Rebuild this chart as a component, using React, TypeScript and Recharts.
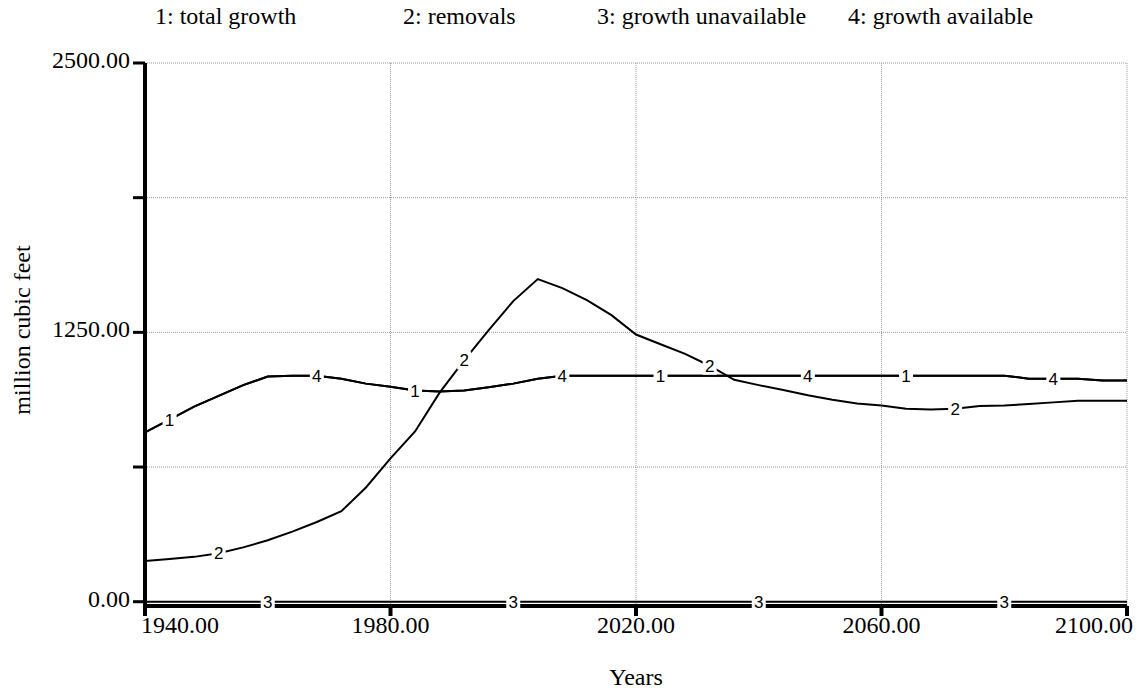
import { LineChart, Line, XAxis, YAxis, CartesianGrid } from 'recharts';

const years = [
	1940, 1944, 1948, 1952, 1956, 1960, 1964, 1968, 1972, 1976,
	1980, 1984, 1988, 1992, 1996, 2000, 2004, 2008, 2012, 2016,
	2020, 2024, 2028, 2032, 2036, 2040, 2044, 2048, 2052, 2056,
	2060, 2064, 2068, 2072, 2076, 2080, 2084, 2088, 2092, 2096,
	2100,
];

const totalGrowth = [
	786, 845, 905, 955, 1005, 1045, 1049, 1049, 1035, 1012,
	998, 980, 975, 980, 995, 1012, 1035, 1049, 1049, 1049,
	1049, 1049, 1049, 1049, 1049, 1049, 1049, 1049, 1049, 1049,
	1049, 1049, 1049, 1049, 1049, 1049, 1035, 1035, 1035, 1026,
	1026,
];

const removals = [
	189, 198, 208, 225, 252, 285, 325, 370, 420, 530,
	665, 790, 970, 1120, 1260, 1395, 1497, 1455, 1400, 1330,
	1240, 1195, 1150, 1095, 1030, 1005, 982, 958, 937, 920,
	910, 895, 892, 895, 908, 910, 918, 925, 933, 933,
	933,
];

const growthUnavailable = [
	0, 0, 0, 0, 0, 0, 0, 0, 0, 0,
	0, 0, 0, 0, 0, 0, 0, 0, 0, 0,
	0, 0, 0, 0, 0, 0, 0, 0, 0, 0,
	0, 0, 0, 0, 0, 0, 0, 0, 0, 0,
	0,
];

const growthAvailable = [
	786, 845, 905, 955, 1005, 1045, 1049, 1049, 1035, 1012,
	998, 980, 975, 980, 995, 1012, 1035, 1049, 1049, 1049,
	1049, 1049, 1049, 1049, 1049, 1049, 1049, 1049, 1049, 1049,
	1049, 1049, 1049, 1049, 1049, 1049, 1035, 1035, 1035, 1026,
	1026,
];

const xTicks = [1940, 1980, 2020, 2060, 2100];
const yTicks = [0, 625, 1250, 1875, 2500];
const yLabelled = [0, 1250, 2500];

const series = [
	{ key: 'total', num: '1', name: 'total growth', marks: [1944, 1984, 2024, 2064] },
	{ key: 'removals', num: '2', name: 'removals', marks: [1952, 1992, 2032, 2072] },
	{ key: 'unavailable', num: '3', name: 'growth unavailable', marks: [1960, 2000, 2040, 2080] },
	{ key: 'available', num: '4', name: 'growth available', marks: [1968, 2008, 2048, 2088] },
];

const data = years.map((year, i) => ({
	year,
	total: totalGrowth[i],
	removals: removals[i],
	unavailable: growthUnavailable[i],
	available: growthAvailable[i],
}));

const serif = 'Liberation Serif, Tinos, Times New Roman, Times, Nimbus Roman, DejaVu Serif, serif';
const sans = 'Liberation Sans, Arimo, Arial, sans-serif';

// white-backed series number sitting on the curve, Stella style
const makeMarker = (num: string, marks: number[]) => (props: any) => {
	const { cx, cy, payload, index } = props;
	if (!marks.includes(payload.year)) return <g key={index} />;
	return (
		<g key={index}>
			<rect x={cx - 7} y={cy - 9} width={14} height={18} fill="#fff" />
			<text x={cx} y={cy} dy={6} textAnchor="middle" fontFamily={sans} fontSize={17} fill="#000">
				{num}
			</text>
		</g>
	);
};

function XTick({ x, y, payload }: any) {
	const first = payload.value === xTicks[0];
	const last = payload.value === xTicks[xTicks.length - 1];
	return (
		<text
			x={first ? x - 4 : last ? x + 9 : x}
			y={y}
			dy={17}
			textAnchor={first ? 'start' : last ? 'end' : 'middle'}
			style={{ fontFamily: serif }}
			fontSize={24}
			fill="#000"
		>
			{payload.value.toFixed(2)}
		</text>
	);
}

function YTick({ x, y, payload }: any) {
	if (!yLabelled.includes(payload.value)) return <g />;
	return (
		<text x={x} y={y} dy={5} textAnchor="end" style={{ fontFamily: serif }} fontSize={24} fill="#000">
			{payload.value.toFixed(2)}
		</text>
	);
}

const legendLeft = [155, 403, 597, 848];

export default function App() {
	return (
		<div style={{ position: 'absolute', left: 0, top: 0, width: 1140, height: 690, background: '#fff' }}>
			{/* Legend */}
			{series.map((s, i) => (
				<div
					key={s.key}
					style={{
						position: 'absolute',
						left: legendLeft[i],
						top: 4,
						fontFamily: serif,
						fontSize: 24,
						lineHeight: '24px',
						whiteSpace: 'nowrap',
					}}
				>
					{`${s.num}: ${s.name}`}
				</div>
			))}

			<LineChart width={1140} height={690} data={data} margin={{ top: 63, right: 13, bottom: 24, left: 0 }}>
				<CartesianGrid stroke="#999" strokeDasharray="1 1" />
				<XAxis
					dataKey="year"
					type="number"
					domain={[1940, 2100]}
					ticks={xTicks}
					height={60}
					tickSize={10}
					tickMargin={0}
					axisLine={{ stroke: '#000', strokeWidth: 4 }}
					tickLine={{ stroke: '#000', strokeWidth: 4 }}
					tick={<XTick />}
				/>
				<YAxis
					type="number"
					domain={[-20, 2500]}
					ticks={yTicks}
					width={145}
					tickSize={12}
					tickMargin={3}
					axisLine={{ stroke: '#000', strokeWidth: 4 }}
					tickLine={{ stroke: '#000', strokeWidth: 3 }}
					tick={<YTick />}
				/>
				{series.map((s) => (
					<Line
						key={s.key}
						dataKey={s.key}
						type="linear"
						stroke="#000"
						strokeWidth={2}
						dot={false}
						isAnimationActive={false}
					/>
				))}
				{/* number markers drawn after every curve */}
				{series.map((s) => (
					<Line
						key={`${s.key}-mark`}
						dataKey={s.key}
						stroke="none"
						dot={makeMarker(s.num, s.marks)}
						activeDot={false}
						legendType="none"
						isAnimationActive={false}
					/>
				))}
			</LineChart>

			<div
				style={{
					position: 'absolute',
					left: 22,
					top: 330,
					transform: 'translate(-50%, -50%) rotate(-90deg)',
					fontFamily: serif,
					fontSize: 24,
					whiteSpace: 'nowrap',
				}}
			>
				million cubic feet
			</div>
			<div
				style={{
					position: 'absolute',
					left: 636,
					top: 677,
					transform: 'translate(-50%, -50%)',
					fontFamily: serif,
					fontSize: 24,
					whiteSpace: 'nowrap',
				}}
			>
				Years
			</div>
		</div>
	);
}
